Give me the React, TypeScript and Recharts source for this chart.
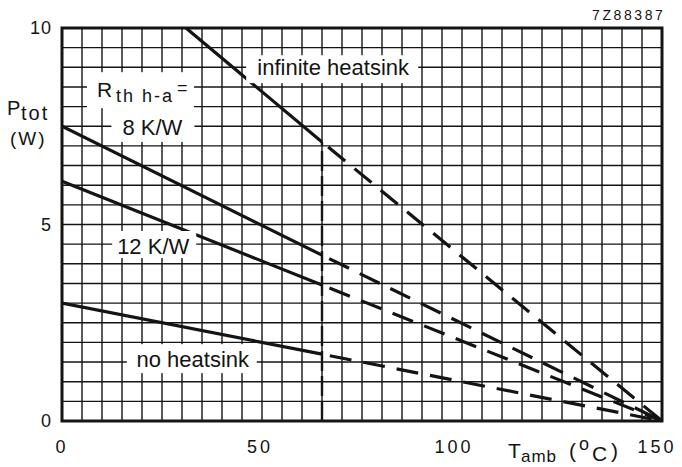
import React from 'react';
import {
  LineChart,
  Line,
  XAxis,
  YAxis,
  CartesianGrid,
  ReferenceLine,
  ReferenceArea,
  ReferenceDot,
  Customized,
} from 'recharts';

const FONT = '"Liberation Sans", Arial, Helvetica, sans-serif';
const INK = '#141414';

// axes: ambient temperature (°C) vs total power (W)
const xTicks = [0, 50, 100, 150];
const yTicks = [0, 5, 10];

// derating curves, points at start / knee (65 °C) / end (150 °C)
const curveT = [0, 65, 150];
const infiniteT = [31, 65, 150];
const infiniteP = [10, 7.1, 0];
const rth8P = [7.5, 4.22, 0];
const rth12P = [6.1, 3.46, 0];
const noSinkP = [3.0, 1.7, 0];

const kneeT = 65;
const kneeTopP = 7.1;

// grid every 5 °C and 0.5 W
const gridX = Array.from({ length: 31 }, (_, i) => i * 5);
const gridY = Array.from({ length: 21 }, (_, i) => i * 0.5);

const curves = [
  { key: 'inf', t: infiniteT, p: infiniteP },
  { key: 'r8', t: curveT, p: rth8P },
  { key: 'r12', t: curveT, p: rth12P },
  { key: 'none', t: curveT, p: noSinkP },
];

const part = (c: { t: number[]; p: number[] }, idx: number[]) =>
  idx.map((i) => ({ t: c.t[i], p: c.p[i] }));

// in-plot labels: anchor = text baseline centre, box = [left, right, top, bottom] px offsets
const notes = [
  { text: 'infinite heatsink', t: 67.8, p: 8.8, box: [-87, 85, -20, 8] },
  { text: '8 K/W', t: 22.6, p: 7.28, box: [-41, 42, -27, 7] },
  { text: '12 K/W', t: 22.8, p: 4.25, box: [-41, 43, -23, 4] },
  { text: 'no heatsink', t: 32.7, p: 1.37, box: [-66, 64, -23, 6] },
];

const xShift: Record<number, number> = { 50: -2, 100: -8, 150: -5 };

function XTick({ x, y, payload }: any) {
  const v = payload.value;
  return (
    <text
      x={x + (xShift[v] ?? 0)}
      y={y + 32}
      textAnchor="middle"
      fontFamily={FONT}
      fontSize={18}
      letterSpacing={3}
      fill={INK}
    >
      {v}
    </text>
  );
}

function YTick({ x, y, payload }: any) {
  return (
    <text x={x - 10} y={y + 6} textAnchor="end" fontFamily={FONT} fontSize={18} letterSpacing={1} fill={INK}>
      {payload.value}
    </text>
  );
}

function noteShape(text: string, box: number[]) {
  return (props: any) => {
    const { cx, cy } = props;
    const [l, r, t, b] = box;
    return (
      <g>
        <rect x={cx + l} y={cy + t} width={r - l} height={b - t} fill="#fff" />
        <text x={cx} y={cy} textAnchor="middle" fontFamily={FONT} fontSize={22} fill={INK}>
          {text}
        </text>
      </g>
    );
  };
}

function rthShape(props: any) {
  const { cx, cy } = props;
  return (
    <g fontFamily={FONT} fill={INK}>
      <rect x={cx - 10} y={cy - 25} width={107} height={36} fill="#fff" />
      <text x={cx} y={cy} fontSize={21}>
        R
        <tspan x={cx + 19} y={cy + 5} fontSize={18} letterSpacing={2}>th h-a</tspan>
        <tspan x={cx + 80} y={cy - 3} fontSize={18}>=</tspan>
      </text>
    </g>
  );
}

function FreeText() {
  return (
    <g fontFamily={FONT} fill={INK}>
      <text x={592} y={20} fontSize={14} letterSpacing={2.6}>7Z88387</text>
      <text x={7} y={115} fontSize={20}>
        P
        <tspan x={21} y={120} fontSize={20} letterSpacing={2}>tot</tspan>
      </text>
      <text x={10} y={145} fontSize={19} letterSpacing={2}>(W)</text>
      <text x={508} y={458} fontSize={21}>
        T
        <tspan x={521} y={462} fontSize={17} letterSpacing={1}>amb</tspan>
        <tspan x={569} y={458}>(</tspan>
        <tspan x={579} y={450} fontSize={18}>o</tspan>
        <tspan x={592} y={461}>C</tspan>
        <tspan x={611} y={458}>)</tspan>
      </text>
    </g>
  );
}

export default function App() {
  return (
    <div style={{ position: 'absolute', left: 0, top: 0, width: 682, height: 467, background: '#fff' }}>
      <LineChart width={682} height={467} margin={{ top: 28, right: 20, bottom: 0, left: 0 }}>
        <CartesianGrid
          stroke={INK}
          strokeWidth={1.4}
          horizontalValues={gridY}
          verticalValues={gridX}
        />
        <XAxis
          type="number"
          dataKey="t"
          domain={[0, 150]}
          ticks={xTicks}
          interval={0}
          allowDataOverflow
          axisLine={false}
          tickLine={false}
          tickSize={0}
          tickMargin={0}
          height={46}
          tick={(p: any) => <XTick {...p} />}
        />
        <YAxis
          type="number"
          domain={[0, 10]}
          ticks={yTicks}
          interval={0}
          allowDataOverflow
          axisLine={false}
          tickLine={false}
          tickSize={0}
          tickMargin={0}
          width={62}
          tick={(p: any) => <YTick {...p} />}
        />
        <ReferenceArea x1={0} x2={150} y1={0} y2={10} fill="none" fillOpacity={0} stroke={INK} strokeWidth={3} />
        <ReferenceLine
          segment={[{ x: kneeT, y: 0 }, { x: kneeT, y: kneeTopP }]}
          stroke={INK}
          strokeWidth={2.4}
          strokeDasharray="20 5"
        />
        {curves.map((c) => (
          <Line
            key={c.key + '-solid'}
            data={part(c, [0, 1])}
            dataKey="p"
            type="linear"
            stroke={INK}
            strokeWidth={3.2}
            dot={false}
            activeDot={false}
            isAnimationActive={false}
          />
        ))}
        {curves.map((c) => (
          <Line
            key={c.key + '-dash'}
            data={part(c, [1, 2])}
            dataKey="p"
            type="linear"
            stroke={INK}
            strokeWidth={3.2}
            strokeDasharray="22 12"
            strokeDashoffset={26}
            dot={false}
            activeDot={false}
            isAnimationActive={false}
          />
        ))}
        {notes.map((n) => (
          <ReferenceDot key={n.text} x={n.t} y={n.p} r={0} shape={noteShape(n.text, n.box)} />
        ))}
        <ReferenceDot x={8.74} y={8.24} r={0} shape={rthShape} />
        <Customized component={FreeText} />
      </LineChart>
    </div>
  );
}
